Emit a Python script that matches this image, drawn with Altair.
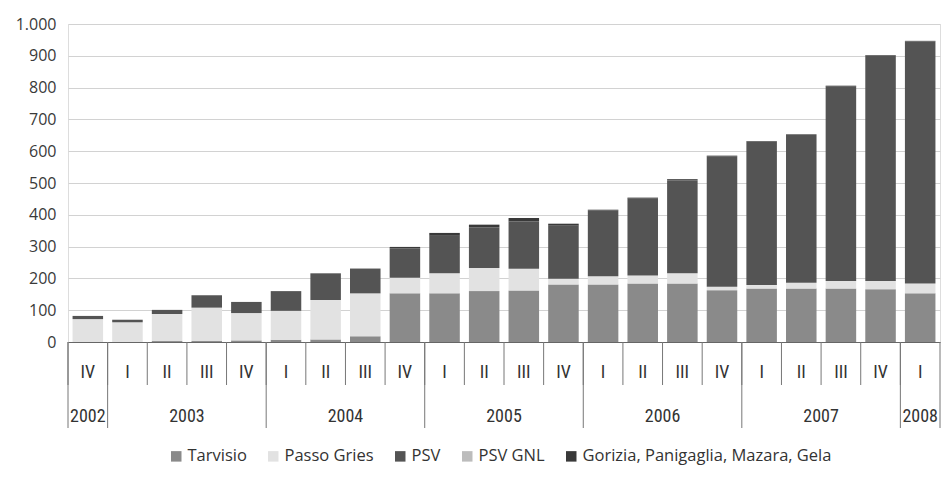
import altair as alt
import pandas as pd

periods = ["2002-IV",
           "2003-I", "2003-II", "2003-III", "2003-IV",
           "2004-I", "2004-II", "2004-III", "2004-IV",
           "2005-I", "2005-II", "2005-III", "2005-IV",
           "2006-I", "2006-II", "2006-III", "2006-IV",
           "2007-I", "2007-II", "2007-III", "2007-IV",
           "2008-I"]
quarters = [p.split("-")[1] for p in periods]

series = ["Tarvisio", "Passo Gries", "PSV", "PSV GNL", "Gorizia, Panigaglia, Mazara, Gela"]
colors = ["#8a8a8a", "#e2e2e2", "#545454", "#bcbcbc", "#393939"]

tarvisio = [0, 0, 3, 3, 5, 7, 8, 18, 153, 153, 160, 162, 181, 181, 184, 184, 163, 168, 168, 168, 166, 153]
passo_gries = [72, 62, 85, 105, 86, 91, 124, 135, 49, 63, 73, 68, 18, 26, 25, 32, 11, 11, 18, 24, 26, 31]
psv = [10, 8, 13, 39, 35, 62, 84, 78, 92, 118, 128, 149, 167, 206, 242, 293, 410, 451, 465, 612, 708, 761]
psv_gnl = [0] * 22
gorizia = [0, 0, 0, 0, 0, 0, 0, 0, 5, 9, 8, 11, 6, 3, 3, 3, 2, 2, 2, 2, 2, 2]

years = ["2002", "2003", "2004", "2005", "2006", "2007", "2008"]
year_anchor = ["2002-IV", "2003-III", "2004-III", "2005-III", "2006-III", "2007-III", "2008-I"]
year_full = [False, True, True, True, True, True, False]
year_starts = ["2002-IV", "2003-I", "2004-I", "2005-I", "2006-I", "2007-I", "2008-I"]

rows = []
for si, (name, vals) in enumerate(zip(series, [tarvisio, passo_gries, psv, psv_gnl, gorizia])):
    for p, v in zip(periods, vals):
        rows.append({"period": p, "series": name, "value": v, "ord": si})
df = pd.DataFrame(rows)

W, H = 872, 318
FONT = "Open Sans"
XFONT = "Liberation Sans Narrow, Roboto Condensed, Open Sans"
xscale = alt.Scale(domain=periods, paddingInner=0, paddingOuter=0)

bars = alt.Chart(df).mark_bar(width=alt.RelativeBandSize(0.77)).encode(
    x=alt.X("period:N", scale=xscale, sort=periods,
            axis=alt.Axis(labels=False, ticks=False, title=None, grid=False,
                          domainColor="#666", domainWidth=1)),
    y=alt.Y("value:Q", stack="zero", scale=alt.Scale(domain=[0, 1000], nice=False),
            axis=alt.Axis(values=list(range(0, 1001, 100)), title=None, domain=False, ticks=False,
                          gridColor="#d2d2d2", gridWidth=1, labelFontSize=16, labelFont=FONT,
                          labelColor="#3a3a3a", labelPadding=12,
                          labelExpr="replace(format(datum.value, ','), ',', '.')")),
    color=alt.Color("series:N", scale=alt.Scale(domain=series, range=colors),
                    legend=alt.Legend(title=None, orient="none", direction="horizontal",
                                      legendX=100, legendY=424, symbolType="square",
                                      symbolSize=110, symbolStrokeWidth=0, labelFontSize=16.5,
                                      labelFont=FONT, labelColor="#333", columnPadding=18,
                                      labelOffset=3, labelLimit=0)),
    order=alt.Order("ord:Q", sort="ascending"),
)

qdf = pd.DataFrame({"period": periods, "q": quarters})
qlabels = alt.Chart(qdf).mark_text(fontSize=18, font=XFONT, color="#333", baseline="middle").encode(
    x=alt.X("period:N", scale=xscale, sort=periods),
    y=alt.value(H + 31),
    text="q:N",
)
qrules = alt.Chart(qdf).mark_rule(color="#777", strokeWidth=1).encode(
    x=alt.X("period:N", scale=xscale, sort=periods, bandPosition=0),
    y=alt.value(H),
    y2=alt.value(H + 43),
)
last = pd.DataFrame({"period": [periods[-1]]})
qrule_end = alt.Chart(last).mark_rule(color="#777", strokeWidth=1).encode(
    x=alt.X("period:N", scale=xscale, sort=periods, bandPosition=1),
    y=alt.value(H),
    y2=alt.value(H + 86),
)
ydf = pd.DataFrame({"period": year_starts})
yrules = alt.Chart(ydf).mark_rule(color="#777", strokeWidth=1).encode(
    x=alt.X("period:N", scale=xscale, sort=periods, bandPosition=0),
    y=alt.value(H),
    y2=alt.value(H + 86),
)
ylab = pd.DataFrame({"period": year_anchor, "year": years, "full": year_full})
ylab_full = alt.Chart(ylab[ylab.full]).mark_text(fontSize=18, font=XFONT, color="#333", baseline="middle").encode(
    x=alt.X("period:N", scale=xscale, sort=periods, bandPosition=0),
    y=alt.value(H + 75),
    text="year:N",
)
ylab_single = alt.Chart(ylab[~ylab.full]).mark_text(fontSize=18, font=XFONT, color="#333", baseline="middle").encode(
    x=alt.X("period:N", scale=xscale, sort=periods, bandPosition=0.5),
    y=alt.value(H + 75),
    text="year:N",
)

chart = alt.layer(bars, qrules, qrule_end, yrules, qlabels, ylab_full, ylab_single).properties(
    width=W, height=H,
    padding={"left": 60, "top": 16, "right": 2, "bottom": 133},
    autosize=alt.AutoSizeParams(type="none"),
).configure_view(stroke=None).configure(background="white")

chart.save("out.html", embed_options={"renderer": "svg", "actions": False})
